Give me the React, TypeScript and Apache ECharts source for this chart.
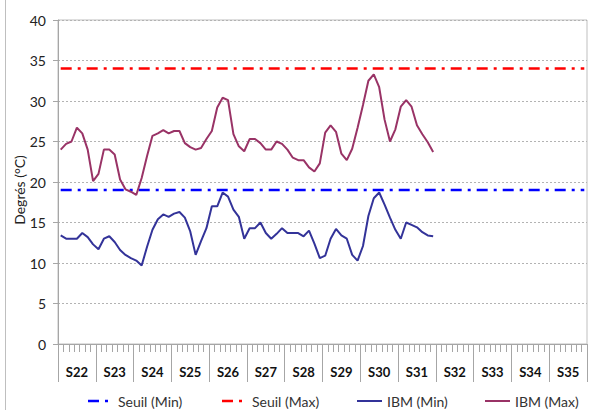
import React, { useEffect, useRef } from "react";
import * as echarts from "echarts";

const weeks = ["S22", "S23", "S24", "S25", "S26", "S27", "S28", "S29", "S30", "S31", "S32", "S33", "S34", "S35"];
const dayNames = ["1", "2", "3", "4", "5", "6", "7"];
const yTicks = [0, 5, 10, 15, 20, 25, 30, 35, 40];

const seuilMin = 19;
const seuilMax = 34;

const ibmMin = [
  13.4, 13.0, 13.0, 13.0, 13.7, 13.2, 12.3,
  11.7, 13.0, 13.3, 12.6, 11.6, 11.0, 10.6,
  10.3, 9.7, 12.0, 14.1, 15.4, 16.0, 15.7,
  16.1, 16.3, 15.6, 13.9, 11.0, 12.7, 14.3,
  17.0, 17.0, 18.7, 18.2, 16.6, 15.7, 13.0,
  14.3, 14.3, 15.0, 13.7, 13.0, 13.6, 14.3,
  13.7, 13.7, 13.7, 13.3, 14.0, 12.4, 10.6,
  10.9, 13.0, 14.2, 13.4, 13.0, 11.0, 10.3,
  12.1, 15.8, 18.0, 18.7, 17.2, 15.6, 14.1,
  13.0, 15.0, 14.7, 14.4, 13.8, 13.4, 13.3,
];

const ibmMax = [
  24.0, 24.7, 25.0, 26.7, 26.0, 24.0, 20.1,
  21.0, 24.0, 24.0, 23.4, 20.3, 19.1, 18.8,
  18.4, 20.5, 23.2, 25.7, 26.0, 26.4, 26.0,
  26.3, 26.3, 24.8, 24.3, 24.0, 24.2, 25.3,
  26.3, 29.2, 30.4, 30.1, 25.9, 24.4, 23.8,
  25.3, 25.3, 24.8, 24.0, 24.0, 25.0, 24.7,
  24.0, 23.0, 22.7, 22.7, 21.8, 21.3, 22.3,
  26.1, 27.0, 26.2, 23.5, 22.7, 24.1, 26.7,
  29.5, 32.5, 33.3, 31.7, 27.7, 25.0, 26.5,
  29.3, 30.1, 29.3, 27.0, 25.9, 24.9, 23.7,
];

const seriesNames = ["Seuil (Min)", "Seuil (Max)", "IBM (Min)", "IBM (Max)"];
const seriesColors = ["#0000ff", "#ff0000", "#333399", "#993366"];

const FONT = "Lato, 'DejaVu Sans', sans-serif";
const DASH_DOT = [11, 6, 3, 6];

export default function App() {
  const ref = useRef<HTMLDivElement>(null);

  useEffect(() => {
    if (!ref.current) return;
    const chart = echarts.init(ref.current, undefined, { renderer: "svg" });
    const days: string[] = [];
    weeks.forEach((w) => dayNames.forEach((d) => days.push(`${w}-${d}`)));
    const minLine = days.map(() => seuilMin);
    const maxLine = days.map(() => seuilMax);

    const legendX = [88, 222, 357, 485];
    const legendY = 401;
    const legendGraphics: any[] = [];
    seriesNames.forEach((name, i) => {
      const dashed = i < 2;
      legendGraphics.push({
        type: "line",
        silent: true,
        shape: { x1: legendX[i], y1: legendY, x2: legendX[i] + 25, y2: legendY },
        style: {
          stroke: seriesColors[i],
          lineWidth: dashed ? 2.5 : 2,
          lineDash: dashed ? DASH_DOT : null,
        },
      });
      legendGraphics.push({
        type: "text",
        silent: true,
        x: legendX[i] + 30,
        y: legendY,
        style: {
          text: name,
          fontFamily: FONT,
          fontSize: 14,
          fill: "#333",
          verticalAlign: "middle",
          align: "left",
        },
      });
    });

    chart.setOption({
      animation: false,
      backgroundColor: "#ffffff",
      textStyle: { fontFamily: FONT },
      grid: {
        left: 58,
        right: 2,
        top: 20,
        bottom: 66,
        show: true,
        borderColor: "#bfbfbf",
        borderWidth: 1,
      },
      xAxis: [
        {
          type: "category",
          position: "bottom",
          data: days,
          boundaryGap: true,
          axisLine: { show: true, lineStyle: { color: "#a6a6a6", width: 1 } },
          axisTick: { show: true, interval: 0, length: 8, lineStyle: { color: "#a6a6a6" } },
          axisLabel: { show: false },
          splitLine: { show: false },
        },
        {
          type: "category",
          position: "bottom",
          data: weeks,
          boundaryGap: true,
          axisLine: { show: false },
          axisTick: { show: true, interval: 0, length: 38, lineStyle: { color: "#a6a6a6" } },
          axisLabel: {
            show: true,
            interval: 0,
            margin: 21,
            fontFamily: FONT,
            fontSize: 13,
            fontWeight: "bold",
            color: "#111",
          },
          splitLine: { show: false },
        },
      ],
      yAxis: {
        type: "value",
        min: yTicks[0],
        max: yTicks[yTicks.length - 1],
        interval: 5,
        axisLine: { show: true, lineStyle: { color: "#a6a6a6" } },
        axisTick: { show: true, length: 5, lineStyle: { color: "#a6a6a6" } },
        axisLabel: { margin: 12, fontFamily: FONT, fontSize: 14, color: "#222" },
        splitLine: { show: true, lineStyle: { color: "#b3b3b3", type: [2, 2], width: 1 } },
      },
      series: [
        {
          name: seriesNames[0],
          type: "line",
          xAxisIndex: 0,
          data: minLine,
          symbol: "none",
          lineStyle: { color: seriesColors[0], width: 2.5, type: DASH_DOT },
          itemStyle: { color: seriesColors[0] },
          z: 3,
        },
        {
          name: seriesNames[1],
          type: "line",
          xAxisIndex: 0,
          data: maxLine,
          symbol: "none",
          lineStyle: { color: seriesColors[1], width: 2.5, type: DASH_DOT },
          itemStyle: { color: seriesColors[1] },
          z: 3,
        },
        {
          name: seriesNames[2],
          type: "line",
          xAxisIndex: 0,
          data: ibmMin,
          symbol: "none",
          lineStyle: { color: seriesColors[2], width: 2 },
          itemStyle: { color: seriesColors[2] },
          z: 4,
        },
        {
          name: seriesNames[3],
          type: "line",
          xAxisIndex: 0,
          data: ibmMax,
          symbol: "none",
          lineStyle: { color: seriesColors[3], width: 2 },
          itemStyle: { color: seriesColors[3] },
          z: 4,
        },
      ],
      graphic: [
        {
          type: "line",
          shape: { x1: 5.5, y1: 0, x2: 5.5, y2: 410 },
          style: { stroke: "#bfbfbf", lineWidth: 1 },
          silent: true,
        },
        {
          type: "text",
          silent: true,
          x: 19,
          y: 190,
          rotation: Math.PI / 2,
          style: {
            text: "Degrés (°C)",
            fontFamily: FONT,
            fontSize: 14,
            fill: "#222",
            align: "center",
            verticalAlign: "middle",
          },
        },
        ...legendGraphics,
      ],
    });
    return () => chart.dispose();
  }, []);

  return (
    <div
      ref={ref}
      style={{ position: "fixed", left: 0, top: 0, width: 589, height: 410, background: "#fff" }}
    />
  );
}
